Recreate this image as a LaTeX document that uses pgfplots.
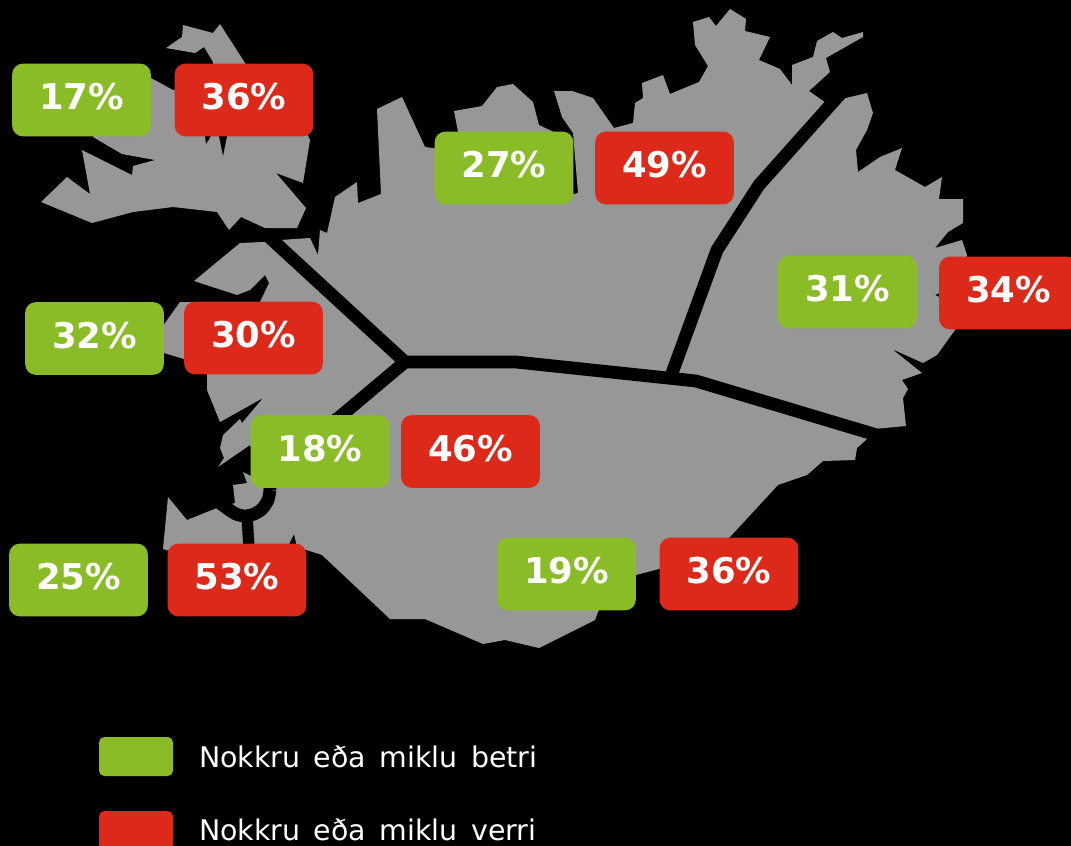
\documentclass[border=0pt]{standalone}
\usepackage{fontspec}
\setmainfont{DejaVu Sans}
\usepackage{pgfplots}
\pgfplotsset{compat=1.18}
\definecolor{landgray}{HTML}{979797}
\definecolor{goodgreen}{HTML}{89BC26}
\definecolor{badred}{HTML}{DC291A}
\newfontfamily\legendfont[WordSpace=1.5]{DejaVu Sans}
\tikzset{land/.style={fill=landgray,draw=none},
  gap/.style={draw=black,line width=9.6pt,line join=round}}
\pgfplotsset{box/.style={only marks,mark=*,mark size=0pt,draw=none,fill=none,
    point meta=explicit symbolic,
    nodes near coords={\pgfplotspointmeta\%},
    every node near coord/.style={anchor=center,fill=#1,text=white,rounded corners=8pt,
      minimum width=104pt,minimum height=54.5pt,inner sep=0pt,text height=14.8pt,text depth=0pt,
      font=\bfseries\fontsize{26.6}{27}\selectfont}}}
\begin{document}
\begin{tikzpicture}
\path[use as bounding box,fill=black] (0,0) rectangle (803.25pt,634.5pt);
\begin{axis}[at={(0,0)},anchor=south west,scale only axis,width=803.25pt,height=634.5pt,
  xmin=0,xmax=1071,ymin=0,ymax=846,y dir=reverse,hide axis,clip=false]
% Westfjords
\addplot[land] coordinates {(41,202) (67,177) (90,194) (82,150) (132,175) (133,166) (155,160)
  (122,154) (93,137) (110,110) (151,78) (173,90) (178,90) (213,66) (213,62) (204,47) (195,53)
  (166,48) (182,37) (183,25) (213,33) (220,24) (245,63) (300,120) (310,140) (303,183) (276,173)
  (306,208) (297,228) (265,228) (241,217) (229,230) (217,212) (173,207) (133,212) (92,223)} --cycle;
\addplot[fill=black,draw=none] coordinates {(205,136) (211,136) (206,144)} --cycle;
\addplot[fill=black,draw=none] coordinates {(219,136) (227,136) (223,156)} --cycle;
% mainland
\addplot[land] coordinates {(280,240) (310,238) (318,255) (320,230) (327,233) (335,197) (357,182)
  (358,203) (381,194) (377,109) (402,97) (425,147) (440,149) (458,132) (454,111) (482,106)
  (497,87) (513,84) (533,102) (539,125) (560,135) (570,195) (578,193) (573,133) (562,117)
  (554,91) (572,91) (593,98) (614,128) (633,123) (635,103) (643,98) (642,83) (663,75) (670,94)
  (699,82) (708,66) (695,45) (693,22) (709,17) (716,26) (730,9) (746,19) (745,31) (770,37)
  (759,60) (780,69) (792,85) (792,65) (813,57) (817,41) (833,32) (842,38) (863,32) (863,37)
  (826,58) (830,72) (809,91) (826,103) (846,98) (867,93) (873,113) (867,130) (856,150) (858,172)
  (880,157) (902,148) (895,170) (925,187) (942,177) (939,199) (963,199) (963,223) (948,232)
  (935,248) (962,240) (967,255) (962,275) (945,290) (935,295) (945,300) (960,315) (955,330)
  (937,355) (923,363) (892,349) (922,373) (902,380) (908,389) (903,398) (906,426) (874,429)
  (867,439) (857,448) (855,460) (823,461) (807,475) (778,485) (730,537) (690,560) (659,569)
  (636,575) (610,590) (598,612) (595,620) (539,648) (505,640) (483,644) (425,619) (390,619)
  (322,555) (297,547) (294,534) (288,546) (200,560) (163,549) (168,497) (187,520) (217,508)
  (235,503) (233,485) (247,483) (243,472) (255,478) (255,455) (250,445) (218,467) (224,458)
  (220,448) (223,435) (240,419) (242,423) (263,398) (220,422) (207,390) (207,372) (184,359)
  (164,353) (160,330) (180,302) (195,302) (260,302) (269,283) (265,275) (250,290) (237,295)
  (194,281) (240,243) (263,242)} --cycle;
% region borders
\addplot[gap] coordinates {(268,236) (405,362) (516,362) (696,381) (880,436)};
\addplot[gap] coordinates {(842,92) (759,185) (717,250) (671,376)};
\addplot[gap] coordinates {(405,362) (342,415) (270,470) (270,490)};
\addplot[gap,smooth] coordinates {(270,490) (268,500) (262,509) (254,514) (245,516) (236,514) (228,509) (220,503)};
\addplot[gap,line width=8.5pt] coordinates {(247,516) (249,548)};
% share better
\addplot[box=goodgreen] table[meta=v] {
x y v
81.5 100 17
504 168 27
847.5 292 31
94.5 338.5 32
320 451.5 18
78.5 580 25
566.5 574 19
};
% share worse
\addplot[box=badred] table[meta=v] {
x y v
244 100 36
664.5 168 49
1008.5 293 34
253.5 338 30
470.5 451.5 46
237 580 53
729 574 36
};
% legend
\addplot[fill=goodgreen,draw=none,rounded corners=4pt] coordinates {(99,737) (173,737) (173,776) (99,776)} --cycle;
\addplot[fill=badred,draw=none,rounded corners=4pt] coordinates {(99,811) (173,811) (173,850) (99,850)} --cycle;
\node[anchor=base west,inner sep=0pt,text=white,font=\legendfont\fontsize{21.3}{24}\selectfont] at (axis cs:199,767) {Nokkru eða miklu betri};
\node[anchor=base west,inner sep=0pt,text=white,font=\legendfont\fontsize{21.3}{24}\selectfont] at (axis cs:199,840) {Nokkru eða miklu verri};
\end{axis}
\end{tikzpicture}
\end{document}
